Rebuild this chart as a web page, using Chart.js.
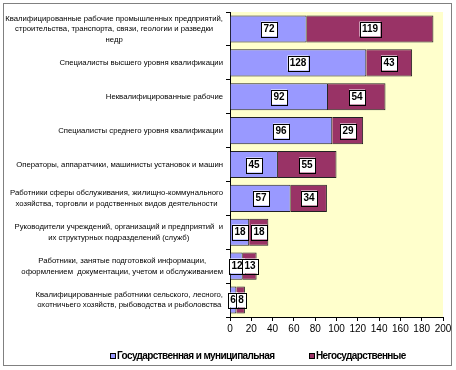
<!DOCTYPE html>
<html>
<head>
<meta charset="utf-8">
<script src="https://cdn.jsdelivr.net/npm/chart.js@4"></script>
<style>
  html, body { margin: 0; padding: 0; background: #fff; }
  #chart { display: block; }
</style>
</head>
<body>
<canvas id="chart" width="456" height="370"></canvas>
<script>
const categories = [
  ["Квалифицированные рабочие промышленных предприятий,", "строительства, транспорта, связи, геологии и разведки", "недр"],
  ["Специалисты высшего уровня квалификации"],
  ["Неквалифицированные рабочие"],
  ["Специалисты среднего уровня квалификации"],
  ["Операторы, аппаратчики, машинисты установок и машин"],
  ["Работники сферы обслуживания, жилищно-коммунального", "хозяйства, торговли и родственных видов деятельности"],
  ["Руководители учреждений, организаций и предприятий  и", "их структурных подразделений (служб)"],
  ["Работники, занятые подготовкой информации,", "оформлением  документации, учетом и обслуживанием"],
  ["Квалифицированные работники сельского, лесного,", "охотничьего хозяйств, рыбоводства и рыболовства"]
];
const stateValues = [72, 128, 92, 96, 45, 57, 18, 12, 6];
const privateValues = [119, 43, 54, 29, 55, 34, 18, 13, 8];
const seriesNames = ["Государственная и муниципальная", "Негосударственные"];
const xMin = 0;
const xMax = 200;
const xStep = 20;

const FONT = "'Liberation Sans', Arial, sans-serif";
Chart.defaults.font.family = FONT;

// plot background, frame, category labels, value boxes, legend
const excelLook = {
  id: "excelLook",
  beforeDraw(chart) {
    const { ctx, chartArea: a } = chart;
    ctx.save();
    ctx.fillStyle = "#FFFFCC";
    ctx.fillRect(a.left, a.top, a.right - a.left, a.bottom - a.top);
    ctx.restore();
  },
  afterDatasetsDraw(chart) {
    const { ctx } = chart;
    ctx.save();
    ctx.font = "bold 10px " + FONT;
    ctx.textAlign = "center";
    ctx.textBaseline = "middle";
    chart.data.datasets.forEach((ds, di) => {
      const meta = chart.getDatasetMeta(di);
      meta.data.forEach((bar, i) => {
        const txt = String(ds.data[i]);
        const cx = Math.round((bar.x + bar.base) / 2);
        const cy = Math.round(bar.y);
        const w = Math.ceil(ctx.measureText(txt).width) + 4;
        const h = 15;
        ctx.fillStyle = "#fff";
        ctx.fillRect(cx - w / 2, cy - h / 2, w, h);
        ctx.strokeStyle = "#000";
        ctx.lineWidth = 1;
        ctx.strokeRect(Math.round(cx - w / 2) + 0.5, Math.round(cy - h / 2) + 0.5, w, h);
        ctx.fillStyle = "#000";
        ctx.fillText(txt, cx, cy + 0.5);
      });
    });
    ctx.restore();
  },
  afterDraw(chart) {
    const { ctx } = chart;
    const y = chart.scales.y;
    ctx.save();
    // category labels: block right-aligned to the axis, lines centred
    ctx.font = "8px " + FONT;
    let widest = 0;
    chart.data.labels.forEach((lines) => lines.forEach((l) => {
      widest = Math.max(widest, ctx.measureText(l).width);
    }));
    const size = Math.min(8, 8 * 218 / widest);
    ctx.font = size.toFixed(2) + "px " + FONT;
    ctx.fillStyle = "#000";
    ctx.textAlign = "center";
    ctx.textBaseline = "middle";
    const right = y.right - 7;
    const lh = 10.5;
    chart.data.labels.forEach((lines, i) => {
      const py = y.getPixelForValue(i);
      const bw = Math.max(...lines.map((l) => ctx.measureText(l).width));
      const cx = right - bw / 2;
      lines.forEach((l, k) => {
        ctx.fillText(l, cx, py + (k - (lines.length - 1) / 2) * lh);
      });
    });

    // legend
    ctx.font = "bold 10px " + FONT;
    ctx.letterSpacing = "-0.6px";
    ctx.textAlign = "left";
    const legendX = [110, 309];
    chart.data.datasets.forEach((ds, di) => {
      const mx = legendX[di];
      ctx.fillStyle = ds.backgroundColor;
      ctx.fillRect(mx, 353, 6, 6);
      ctx.strokeStyle = "#000";
      ctx.strokeRect(mx + 0.5, 353.5, 5, 5);
      ctx.fillStyle = "#000";
      ctx.fillText(ds.label, mx + 7, 356.5);
    });
    ctx.letterSpacing = "0px";

    // outer frame
    ctx.strokeStyle = "#808080";
    ctx.lineWidth = 1;
    ctx.strokeRect(3.5, 3.5, 448, 362);
    ctx.restore();
  }
};

new Chart(document.getElementById("chart"), {
  type: "bar",
  data: {
    labels: categories,
    datasets: [
      {
        label: seriesNames[0],
        data: stateValues,
        backgroundColor: "#9999FF",
        borderColor: "#222",
        borderWidth: 1,
        barPercentage: 0.8,
        categoryPercentage: 1
      },
      {
        label: seriesNames[1],
        data: privateValues,
        backgroundColor: "#993366",
        borderColor: "#222",
        borderWidth: 1,
        barPercentage: 0.8,
        categoryPercentage: 1
      }
    ]
  },
  options: {
    responsive: false,
    animation: false,
    indexAxis: "y",
    layout: { padding: { top: 12, right: 13, bottom: 33, left: 0 } },
    plugins: {
      legend: { display: false },
      tooltip: { enabled: false }
    },
    scales: {
      x: {
        stacked: true,
        min: xMin,
        max: xMax,
        ticks: { stepSize: xStep, color: "#000", font: { size: 10 }, padding: 2, maxRotation: 0 },
        grid: { drawOnChartArea: false, tickLength: 4, color: "#000" },
        border: { color: "#000" },
        afterFit: (s) => { s.height = 20; }
      },
      y: {
        stacked: true,
        ticks: { display: false },
        grid: { drawOnChartArea: false, tickLength: 4, color: "#000", offset: true },
        border: { color: "#000" },
        afterFit: (s) => { s.width = 230; }
      }
    }
  },
  plugins: [excelLook]
});
</script>
</body>
</html>
